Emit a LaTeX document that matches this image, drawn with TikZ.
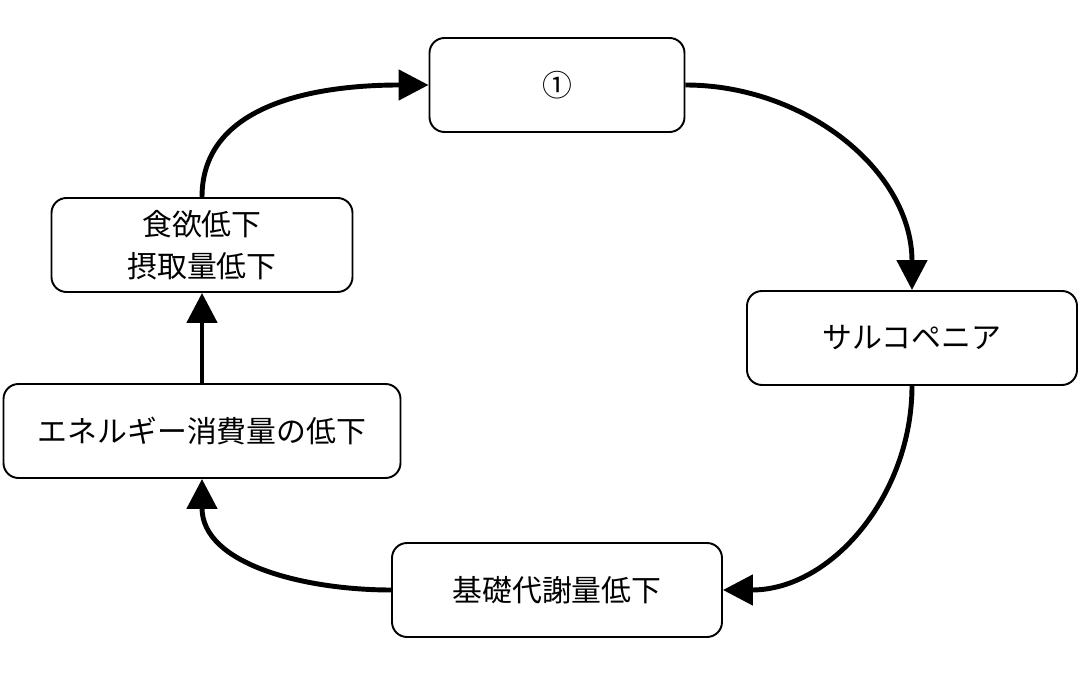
\documentclass[tikz,border=0pt]{standalone}
\usepackage{fontspec}
\setmainfont{Noto Sans CJK JP}
\usetikzlibrary{positioning, arrows.meta}
\tikzstyle{box}=[draw, line width=1.1pt, rounded corners=0.3cm, shape=rectangle, align=center, font=\fontsize{17}{24}\selectfont]
\tikzstyle{flow}=[line width=2.8pt, -{Triangle[length=0.6cm,width=0.6cm]}]

\begin{document}
\begin{tikzpicture}[x=0.02cm, y=-0.02cm]
\useasboundingbox (0,0) rectangle (1090,685);
\node[box, minimum width=255*0.02cm, minimum height=94*0.02cm] (one) at (557,85) {①};
\node[box, minimum width=330*0.02cm, minimum height=94*0.02cm] (sarco) at (912,338) {サルコペニア};
\node[box, minimum width=330*0.02cm, minimum height=94*0.02cm] (bmr) at (557,590) {基礎代謝量低下};
\node[box, minimum width=397*0.02cm, minimum height=94*0.02cm] (energy) at (202,431) {エネルギー消費量の低下};
\node[box, minimum width=301*0.02cm, minimum height=94*0.02cm] (appetite) at (202,245) {食欲低下\\摂取量低下};
%
\draw[flow] (one.east) to[out=0, in=90] (sarco.north);
\draw[flow] (sarco.south) to[out=-90, in=0] (bmr.east);
\draw[flow] (bmr.west) to[out=180, in=-90] (energy.south);
\draw[flow] (energy.north) -- (appetite.south);
\draw[flow] (appetite.north) to[out=90, in=180] (one.west);
%
\end{tikzpicture}
\end{document}
